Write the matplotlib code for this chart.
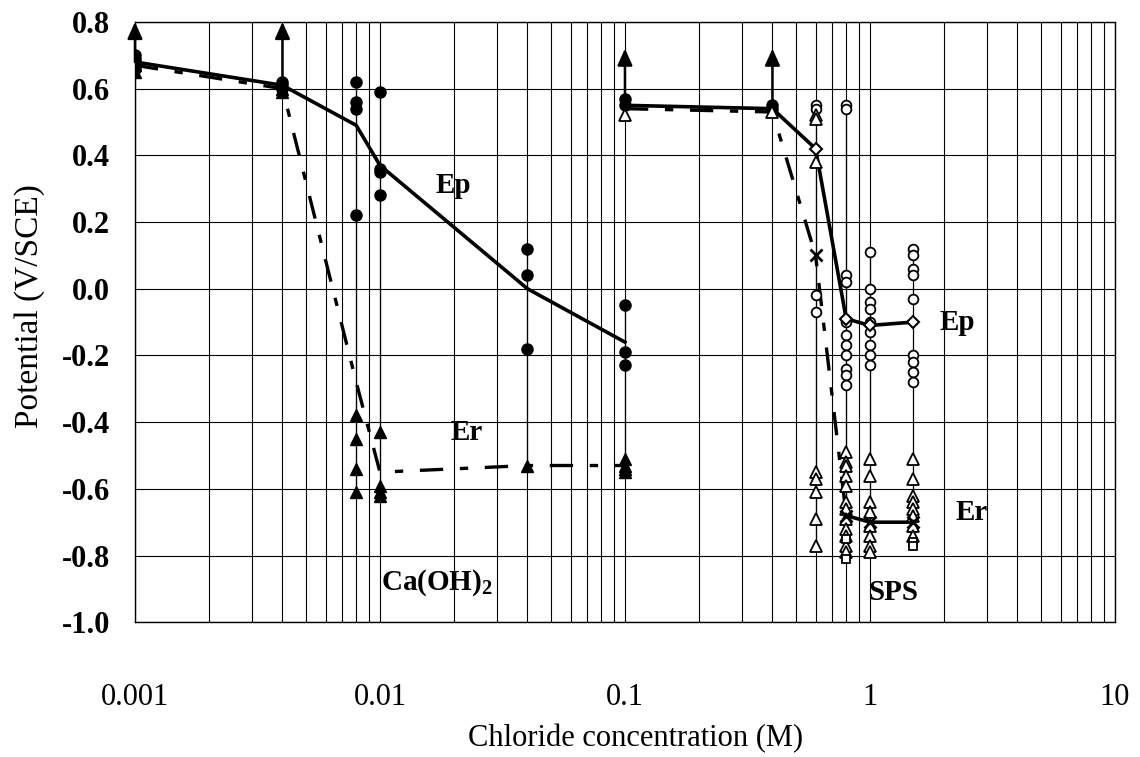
import matplotlib.pyplot as plt
import numpy as np

plt.rcParams['font.family'] = ['Liberation Serif', 'DejaVu Serif']
plt.rcParams['mathtext.fontset'] = 'custom'
plt.rcParams['mathtext.rm'] = 'Liberation Serif'
plt.rcParams['mathtext.bf'] = 'Liberation Serif:bold'

# --- Ca(OH)2 series (filled markers) ---
conc_ca = [0.001, 0.004, 0.008, 0.01, 0.04, 0.1]
ep_ca_mean = [0.68, 0.61, 0.49, 0.37, 0.00, -0.16]
er_ca_mean = [0.67, 0.60, -0.28, -0.55, -0.53, -0.53]
ep_ca_pts = [
    [0.70, 0.69, 0.68, 0.67, 0.66],
    [0.62, 0.61, 0.60],
    [0.62, 0.56, 0.54, 0.22],
    [0.59, 0.36, 0.35, 0.28],
    [0.12, 0.04, -0.18],
    [-0.05, -0.19, -0.23],
]
er_ca_pts = [
    [0.67, 0.65],
    [0.60, 0.59],
    [-0.38, -0.45, -0.54, -0.61],
    [-0.43, -0.59, -0.61, -0.62],
    [-0.53],
    [-0.51, -0.53, -0.54, -0.55],
]

# --- SPS series (open markers) ---
conc_sps = [0.1, 0.4, 0.6, 0.8, 1.0, 1.5]
ep_sps_mean = [0.55, 0.54, 0.42, -0.09, -0.11, -0.10]
er_sps_mean = [0.54, 0.53, 0.10, -0.68, -0.70, -0.70]
ep_sps_filled = [[0.57, 0.55], [0.55, 0.54], [], [], [], []]
ep_sps_pts = [
    [],
    [],
    [0.55, 0.54, -0.02, -0.07],
    [0.55, 0.54, 0.04, 0.02, -0.10, -0.14, -0.17, -0.20, -0.24, -0.26, -0.29],
    [0.11, 0.00, -0.04, -0.06, -0.10, -0.13, -0.17, -0.20, -0.23],
    [0.12, 0.10, 0.06, 0.04, -0.03, -0.20, -0.22, -0.25, -0.28],
]
er_sps_pts = [
    [0.52],
    [0.53],
    [0.52, 0.51, 0.38, -0.55, -0.57, -0.61, -0.69, -0.77],
    [-0.49, -0.52, -0.53, -0.56, -0.59, -0.64, -0.66, -0.69, -0.72, -0.74, -0.77, -0.79],
    [-0.51, -0.56, -0.64, -0.67, -0.71, -0.74, -0.77, -0.79],
    [-0.51, -0.57, -0.62, -0.64, -0.66, -0.68, -0.71, -0.74],
]
sq_sps_pts = [[], [], [], [-0.75, -0.81], [], [-0.76, -0.77]]

# arrows (values beyond the scale)
arrow_x = [0.001, 0.004, 0.1, 0.4]
arrow_y0 = [0.68, 0.61, 0.57, 0.56]
arrow_y1 = [0.80, 0.80, 0.72, 0.72]

yticks = [-1.0, -0.8, -0.6, -0.4, -0.2, 0.0, 0.2, 0.4, 0.6, 0.8]

fig = plt.figure(figsize=(11.4, 7.57), dpi=100)
ax = fig.add_axes([0.1184, 0.178, 0.8596, 0.793])

ax.set_xscale('log')
ax.set_xlim(0.001, 10)
ax.set_ylim(-1.0, 0.8)
ax.set_yticks(yticks)
ax.set_yticklabels(['%.1f' % v for v in yticks])
ax.set_xticks([0.001, 0.01, 0.1, 1, 10])
ax.set_xticklabels(['0.001', '0.01', '0.1', '1', '10'])
ax.xaxis.grid(True, which='both', color='black', lw=0.8)
ax.yaxis.grid(True, which='major', color='black', lw=0.8)
ax.set_axisbelow(True)
ax.tick_params(which='both', length=0)
ax.tick_params(axis='x', labelsize=22, pad=44)
ax.tick_params(axis='y', labelsize=22, pad=18)
for lab in ax.get_yticklabels():
    lab.set_fontweight('bold')
for s in ax.spines.values():
    s.set_linewidth(1.0)

ax.set_xlabel('Chloride concentration (M)', fontsize=22)
ax.set_ylabel('Potential (V/SCE)', fontsize=24)
ax.xaxis.set_label_coords(0.511, -0.170)
ax.yaxis.set_label_coords(-0.092, 0.527)

# range lines
for x, a, b in zip(conc_ca, ep_ca_pts, er_ca_pts):
    v = a + b
    ax.vlines(x, min(v), max(v), color='black', lw=0.9, zorder=2)
for x, a, b, c in zip(conc_sps, ep_sps_pts, er_sps_pts, sq_sps_pts):
    v = a + b + c
    if v:
        ax.vlines(x, min(v), max(v), color='black', lw=0.9, zorder=2)

# mean lines
ax.plot(conc_ca, ep_ca_mean, color='black', lw=2.6, zorder=4)
ax.plot(conc_ca, er_ca_mean, color='black', lw=2.4, dashes=(7, 5, 2.5, 5), zorder=4)
ax.plot(conc_sps, ep_sps_mean, color='black', lw=2.6, zorder=4)
ax.plot(conc_sps[:4], er_sps_mean[:4], color='black', lw=2.4, dashes=(7, 5, 2.5, 5), zorder=4)
ax.plot(conc_sps[3:], er_sps_mean[3:], color='black', lw=2.6, zorder=4)
ax.plot(conc_sps[2:], ep_sps_mean[2:], ls='none', marker='D', ms=6, mfc='white',
        mec='black', mew=1.5, zorder=6)
ax.plot(conc_sps[2:], er_sps_mean[2:], ls='none', marker='x', ms=8, color='black',
        mew=2, zorder=6)

# individual points
for x, pts in zip(conc_ca, ep_ca_pts):
    ax.plot([x] * len(pts), pts, ls='none', marker='o', ms=8, color='black', zorder=5)
for x, pts in zip(conc_ca, er_ca_pts):
    ax.plot([x] * len(pts), pts, ls='none', marker='^', ms=8, color='black', zorder=5)
for x, pts in zip(conc_sps, ep_sps_filled):
    ax.plot([x] * len(pts), pts, ls='none', marker='o', ms=8, color='black', zorder=5)
for x, pts in zip(conc_sps, ep_sps_pts):
    ax.plot([x] * len(pts), pts, ls='none', marker='o', ms=7, mfc='white',
            mec='black', mew=1.3, zorder=5)
for x, pts in zip(conc_sps, er_sps_pts):
    ax.plot([x] * len(pts), pts, ls='none', marker='^', ms=8, mfc='white',
            mec='black', mew=1.3, zorder=5)
for x, pts in zip(conc_sps, sq_sps_pts):
    ax.plot([x] * len(pts), pts, ls='none', marker='s', ms=6, mfc='white',
            mec='black', mew=1.3, zorder=5)

# arrows
for x, y0, y1 in zip(arrow_x, arrow_y0, arrow_y1):
    ax.annotate('', xy=(x, y1), xytext=(x, y0), annotation_clip=False,
                arrowprops=dict(arrowstyle='-|>,head_length=1.0,head_width=0.45',
                                color='black', lw=1.8, shrinkA=0, shrinkB=0),
                zorder=7)

# labels
txt = dict(fontsize=21, fontweight='bold', ha='center', va='center', zorder=8)
ax.text(0.0199, 0.31, 'Ep', **txt)
ax.text(0.0227, -0.43, 'Er', **txt)
ax.text(0.0171, -0.88, r'Ca(OH)$_\mathbf{2}$', **txt)
ax.text(2.27, -0.10, 'Ep', **txt)
ax.text(2.61, -0.67, 'Er', **txt)
ax.text(1.25, -0.91, 'SPS', **txt)

fig.savefig('out.png', dpi=100)
